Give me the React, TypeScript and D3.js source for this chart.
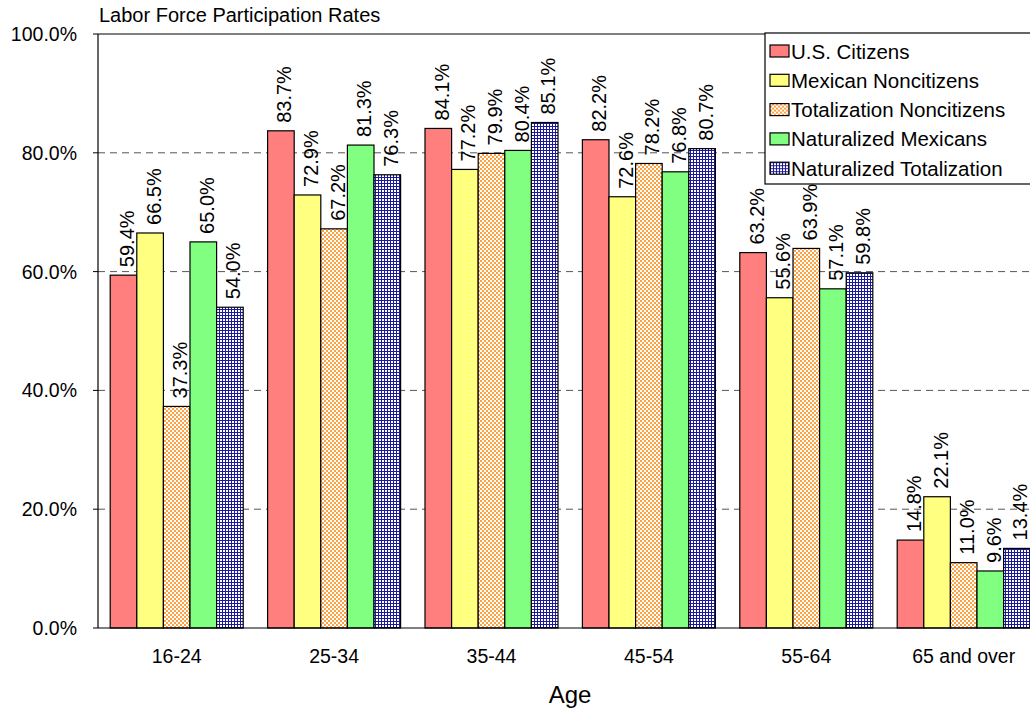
import React from "react";
import * as d3 from "d3";

const categories = ["16-24", "25-34", "35-44", "45-54", "55-64", "65 and over"];
const seriesNames = [
  "U.S. Citizens",
  "Mexican Noncitizens",
  "Totalization Noncitizens",
  "Naturalized Mexicans",
  "Naturalized Totalization",
];
const usCitizens = [59.4, 83.7, 84.1, 82.2, 63.2, 14.8];
const mexicanNoncitizens = [66.5, 72.9, 77.2, 72.6, 55.6, 22.1];
const totalizationNoncitizens = [37.3, 67.2, 79.9, 78.2, 63.9, 11.0];
const naturalizedMexicans = [65.0, 81.3, 80.4, 76.8, 57.1, 9.6];
const naturalizedTotalization = [54.0, 76.3, 85.1, 80.7, 59.8, 13.4];
const yTicks = [0, 20, 40, 60, 80, 100];

const allSeries = [usCitizens, mexicanNoncitizens, totalizationNoncitizens, naturalizedMexicans, naturalizedTotalization];
const fills = ["#ff7f7f", "#ffff80", "url(#pOrange)", "#80ff80", "url(#pBlue)"];

const W = 1030, H = 709;
const left = 98, top = 34, bottom = 628, right = 1042.4;
const font = "Liberation Sans, Arial, sans-serif";

export default function App() {
  const x = d3.scaleBand<string>().domain(categories).range([left, right]).paddingInner(0.155).paddingOuter(0.0775);
  const x1 = d3.scaleBand<number>().domain(d3.range(5)).range([0, x.bandwidth()]);
  const y = d3.scaleLinear().domain([0, 100]).range([bottom, top]);

  return (
    <svg width={W} height={H} style={{ display: "block", position: "absolute", left: 0, top: 0 }} fontFamily={font}>
      <defs>
        <pattern id="pOrange" width="4" height="4" patternUnits="userSpaceOnUse">
          <rect width="4" height="4" fill="#ffffff" />
          <rect x="0" y="0" width="2" height="2" fill="#ffa040" />
          <rect x="2" y="2" width="2" height="2" fill="#ffa040" />
        </pattern>
        <pattern id="pBlue" width="3" height="3" patternUnits="userSpaceOnUse">
          <rect width="3" height="3" fill="#ffffff" />
          <rect x="0" y="0" width="3" height="1" fill="#1a1a9a" />
          <rect x="0" y="0" width="1" height="3" fill="#1a1a9a" />
        </pattern>
      </defs>
      <rect width={W} height={H} fill="#fff" />
      <text x={99} y={22} fontSize={20} fill="#000">Labor Force Participation Rates</text>
      {yTicks.map((t) => (
        <g key={t}>
          {t > 0 && t < 100 && (
            <line x1={left} x2={right} y1={y(t)} y2={y(t)} stroke="#555" strokeDasharray="7,5" strokeWidth={1} />
          )}
          <line x1={left - 5} x2={left} y1={y(t)} y2={y(t)} stroke="#000" />
          <text x={77} y={y(t) + 7} textAnchor="end" fontSize={19.5} fill="#000">{t.toFixed(1)}%</text>
        </g>
      ))}
      <line x1={left} x2={right} y1={top} y2={top} stroke="#000" strokeWidth={1.2} />
      {categories.map((c) => (
        <g key={c}>
          {allSeries.map((s, si) => {
            const v = s[categories.indexOf(c)];
            const bx = (x(c) ?? 0) + (x1(si) ?? 0);
            return (
              <rect key={si} x={bx} y={y(v)} width={x1.bandwidth()} height={bottom - y(v)} fill={fills[si]} stroke="#000" strokeWidth={1.2} />
            );
          })}
          <text x={(x(c) ?? 0) + x.bandwidth() / 2} y={663} textAnchor="middle" fontSize={19.5} fill="#000">{c}</text>
        </g>
      ))}
      {categories.map((c) => (
        <g key={"l" + c}>
          {allSeries.map((s, si) => {
            const v = s[categories.indexOf(c)];
            const cx = (x(c) ?? 0) + (x1(si) ?? 0) + x1.bandwidth() / 2 + 10.5;
            const ty = y(v) - 8;
            return (
              <text key={si} transform={`translate(${cx},${ty}) rotate(-90)`} fontSize={20} fill="#000">
                {v.toFixed(1) + "%"}
              </text>
            );
          })}
        </g>
      ))}
      <line x1={left} x2={left} y1={top} y2={bottom} stroke="#000" strokeWidth={1.2} />
      <line x1={left} x2={right} y1={bottom} y2={bottom} stroke="#000" strokeWidth={1.2} />
      <text x={570} y={703} textAnchor="middle" fontSize={24} fill="#000">Age</text>
      <g>
        <rect x={765} y={33} width={275} height={151} fill="#fff" stroke="#000" strokeWidth={1.2} />
        {seriesNames.map((n, i) => (
          <g key={n} transform={`translate(770,${51 + i * 29.3})`}>
            <rect x={0} y={-6} width={19} height={12} fill={fills[i]} stroke="#000" strokeWidth={1.2} />
            <text x={21} y={7.5} fontSize={20.5} fill="#000">{n}</text>
          </g>
        ))}
      </g>
    </svg>
  );
}
